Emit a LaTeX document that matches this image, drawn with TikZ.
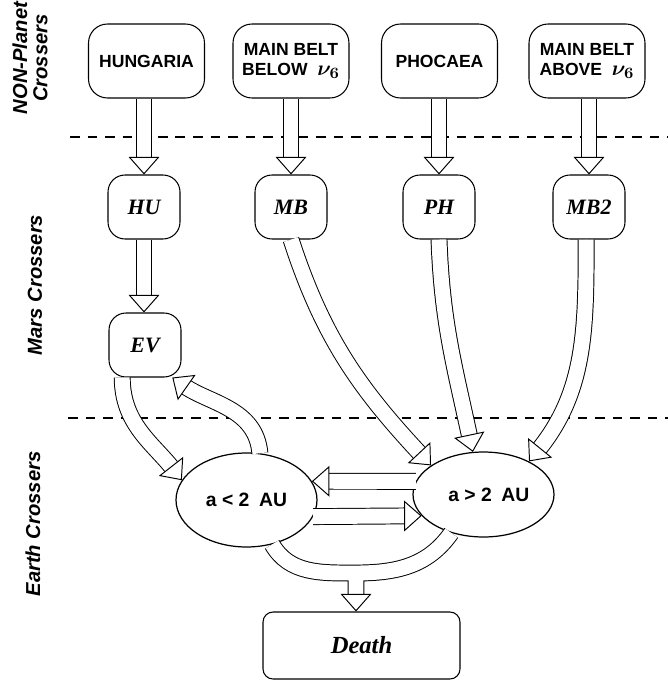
\documentclass[tikz,border=0pt]{standalone}
\usepackage{fontspec}
\usepackage{bm}
\usetikzlibrary{arrows.meta,shapes.geometric}
\newfontfamily\arialfam{Liberation Sans}
\newfontfamily\timesfam{Liberation Serif}
\newcommand{\nusix}{{\fontsize{13}{13}\selectfont$\bm{\nu}_{\bm{6}}$}}

\tikzset{
  srcbox/.style={draw, line width=0.6pt, rounded corners=0.38cm, minimum width=2.32cm,
    minimum height=1.48cm, inner sep=0pt, align=center,
    font=\arialfam\bfseries\fontsize{10}{11.4}\selectfont},
  crosser/.style={draw, line width=0.6pt, rounded corners=0.34cm, minimum width=1.44cm,
    minimum height=1.28cm, inner sep=0pt, font=\timesfam\bfseries\itshape\fontsize{12.5}{14}\selectfont},
  region/.style={draw, ellipse, line width=0.7pt, inner sep=0pt, minimum width=2.82cm,
    font=\arialfam\bfseries\fontsize{11}{12}\selectfont},
  fat/.style={draw=white, line width=0.2pt,
    -{Triangle[length=10pt, width=17.5pt, fill=white, color=black, line width=0.55pt]},
    preaction={draw=black, line width=9.6pt, shorten >=8.5pt, -},
    preaction={draw=white, line width=8.5pt, shorten >=8.5pt, -}},
  sep/.style={dash pattern=on 5.5pt off 4.5pt, line width=0.8pt},
  side/.style={rotate=90, align=center, font=\arialfam\bfseries\itshape\fontsize{11.5}{11.5}\selectfont}
}

\begin{document}
\begin{tikzpicture}[x=0.02cm, y=-0.02cm]
    \useasboundingbox (0,0) rectangle (668,682);

    % zone separators
    \draw[sep] (70,137) -- (668,137);
    \draw[sep] (68,418) -- (668,418);

    \node[side] (npc) at (30,58) {NON-Planet\\Crossers};
    \node[side] (mc) at (35,285) {Mars Crossers};
    \node[side] (ec) at (33,524) {Earth Crossers};

    % source regions
    \node[srcbox] (hung) at (146.5,61) {HUNGARIA};
    \node[srcbox] (below) at (291,61) {MAIN BELT\\BELOW\ \ \nusix};
    \node[srcbox] (phoc) at (439.5,61) {PHOCAEA};
    \node[srcbox] (above) at (587,61) {MAIN BELT\\ABOVE\ \ \nusix};

    % mars crossers
    \node[crosser] (hu) at (144,207) {HU};
    \node[crosser] (mb) at (291,207) {MB};
    \node[crosser] (ph) at (439,207) {PH};
    \node[crosser] (mbtwo) at (589,207) {MB2};
    \node[crosser] (ev) at (145,345) {EV};

    % earth crossers
    \node[region, minimum height=1.88cm] (lo) at (246.5,500) {a < 2\enspace AU};
    \node[region, minimum height=1.7cm] (hi) at (483.5,494.5) {\ \ a > 2\enspace AU};
    \node[draw, line width=0.6pt, rounded corners=0.2cm, minimum width=3.94cm, minimum height=1.34cm,
      font=\timesfam\bfseries\itshape\fontsize{14}{16}\selectfont] (death) at (361.5,645.5) {Death};

    \foreach \a/\b in {hung/hu, below/mb, phoc/ph, above/mbtwo}
    \draw[fat] (\a.south -| \b) -- (\b.north);
    \draw[fat] (hu.south) -- (hu.south |- ev.north);

    \draw[fat] (ev.-125) to[out=-90, in=128] (lo.163);
    \draw[fat] (lo.74) to[out=95, in=-35] (ev.-50);
    \draw[fat] (mb.south) to[out=-72, in=133] (hi.151);
    \draw[fat] (ph.south) to[out=-88, in=102] (hi.104);
    \draw[fat] (mbtwo.-95) to[out=-90, in=51] (hi.36);

    \draw[fat] (hi.169) -- (lo.16);
    \draw[fat] (lo.-14) -- (hi.199);

    \coordinate (merge) at (356,573);
    \draw[fat] (lo.-60) to[out=-60, in=180] (merge) to[out=0, in=-125] (hi.-130)
      (merge) -- (merge |- death.north);

\end{tikzpicture}
\end{document}
